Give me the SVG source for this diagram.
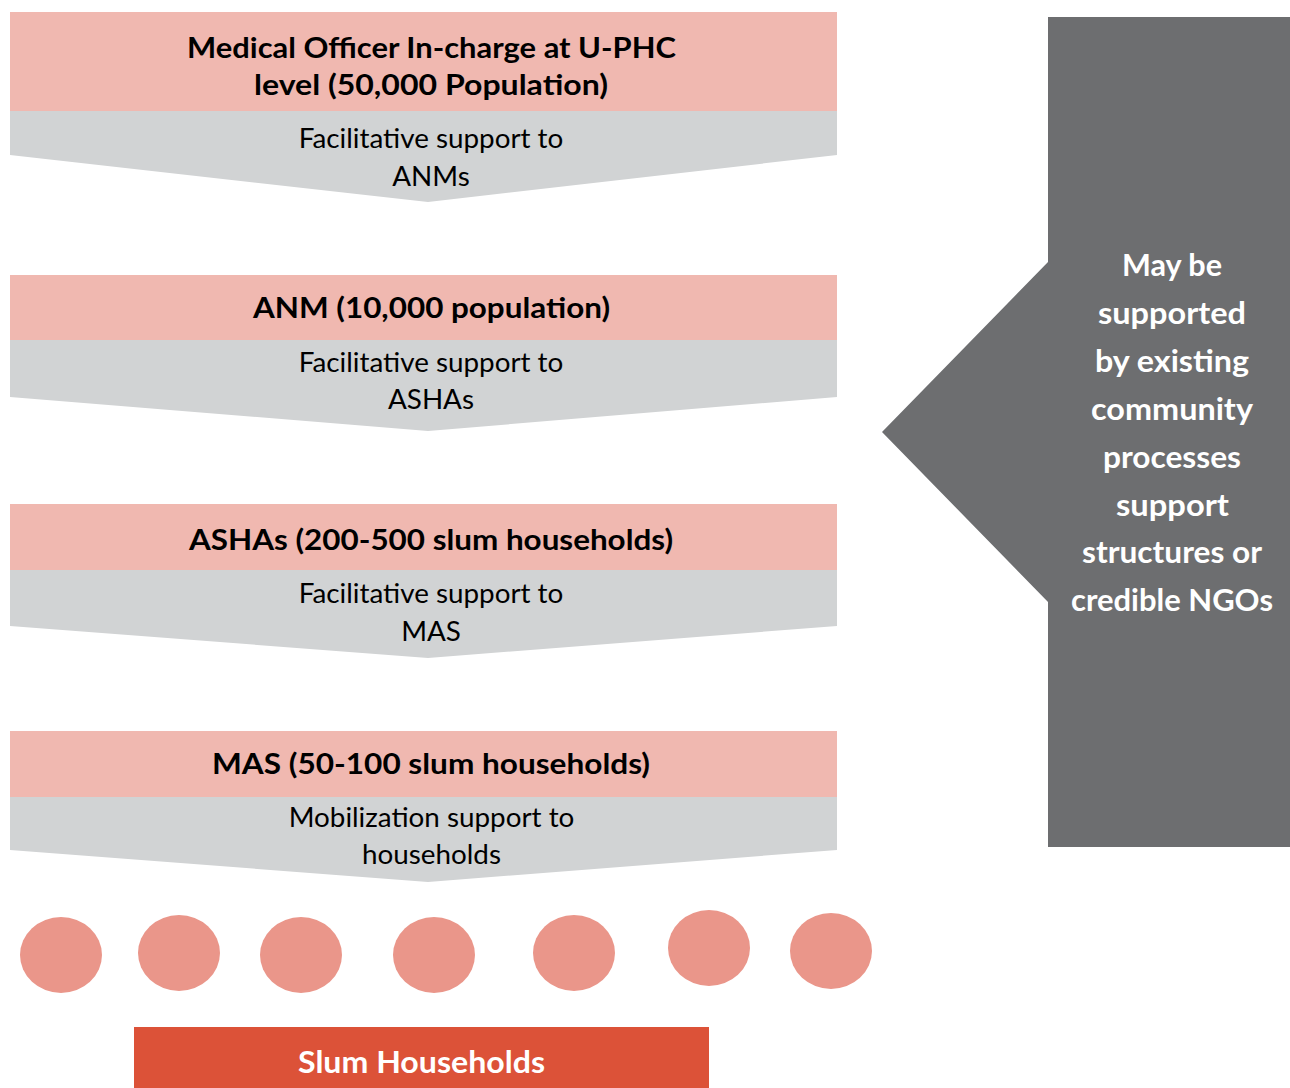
<svg xmlns="http://www.w3.org/2000/svg" width="1290" height="1088" viewBox="0 0 1290 1088">
<style>
.head{fill:#F0B8B0}
.sub{fill:#D1D3D4}
.t{font-family:Lato,"Open Sans",sans-serif;font-size:29px;font-weight:700;fill:#000;text-anchor:middle}
.s{font-family:Lato,"Open Sans",sans-serif;font-size:27.8px;font-weight:400;fill:#000;text-anchor:middle}
.w{font-family:Lato,"Open Sans",sans-serif;font-size:29.5px;font-weight:700;fill:#fff;text-anchor:middle}
.dot{fill:#EA968A}
</style>
<rect width="1290" height="1088" fill="#fff"/>
<g id="node-mo">
<polygon class="sub" points="10,111 837,111 837,155 428,202 10,155"/>
<rect class="head" x="10" y="12" width="827" height="99"/>
<text class="t" x="431.5" y="58" textLength="489" lengthAdjust="spacingAndGlyphs">Medical Officer In-charge at U-PHC</text>
<text class="t" x="431" y="95" textLength="354" lengthAdjust="spacingAndGlyphs">level (50,000 Population)</text>
<text class="s" x="431" y="148">Facilitative support to</text>
<text class="s" x="431" y="186">ANMs</text>
</g>
<g id="node-anm">
<polygon class="sub" points="10,340 837,340 837,397 428,431 10,397"/>
<rect class="head" x="10" y="275" width="827" height="65"/>
<text class="t" x="431.5" y="318" textLength="357" lengthAdjust="spacingAndGlyphs">ANM (10,000 population)</text>
<text class="s" x="431" y="372">Facilitative support to</text>
<text class="s" x="431" y="409">ASHAs</text>
</g>
<g id="node-asha">
<polygon class="sub" points="10,570 837,570 837,626 428,658 10,626"/>
<rect class="head" x="10" y="504" width="827" height="66"/>
<text class="t" x="431" y="550" textLength="484" lengthAdjust="spacingAndGlyphs">ASHAs (200-500 slum households)</text>
<text class="s" x="431" y="603">Facilitative support to</text>
<text class="s" x="431" y="641">MAS</text>
</g>
<g id="node-mas">
<polygon class="sub" points="10,797 837,797 837,850 428,882 10,850"/>
<rect class="head" x="10" y="731" width="827" height="66"/>
<text class="t" x="431" y="774" textLength="438" lengthAdjust="spacingAndGlyphs">MAS (50-100 slum households)</text>
<text class="s" x="431.5" y="827">Mobilization support to</text>
<text class="s" x="431.5" y="864">households</text>
</g>
<g id="node-support">
<polygon fill="#6D6E70" points="1048,17 1290,17 1290,847 1048,847 1048,602 882,432 1048,262"/>
<text class="w" x="1172" y="276" textLength="100" lengthAdjust="spacingAndGlyphs">May be</text>
<text class="w" x="1172" y="324" textLength="148" lengthAdjust="spacingAndGlyphs">supported</text>
<text class="w" x="1172" y="372" textLength="154" lengthAdjust="spacingAndGlyphs">by existing</text>
<text class="w" x="1172" y="420" textLength="162" lengthAdjust="spacingAndGlyphs">community</text>
<text class="w" x="1172" y="468" textLength="138" lengthAdjust="spacingAndGlyphs">processes</text>
<text class="w" x="1172.5" y="516" textLength="113" lengthAdjust="spacingAndGlyphs">support</text>
<text class="w" x="1172" y="563" textLength="180" lengthAdjust="spacingAndGlyphs">structures or</text>
<text class="w" x="1172" y="611" textLength="202" lengthAdjust="spacingAndGlyphs">credible NGOs</text>
</g>
<g id="node-households">
<ellipse class="dot" cx="61" cy="955" rx="41" ry="38"/>
<ellipse class="dot" cx="179" cy="953" rx="41" ry="38"/>
<ellipse class="dot" cx="301" cy="955" rx="41" ry="38"/>
<ellipse class="dot" cx="434" cy="955" rx="41" ry="38"/>
<ellipse class="dot" cx="574" cy="953" rx="41" ry="38"/>
<ellipse class="dot" cx="709" cy="948" rx="41" ry="38"/>
<ellipse class="dot" cx="831" cy="951" rx="41" ry="38"/>
</g>
<g id="node-slum">
<rect fill="#DC5238" x="134" y="1027" width="575" height="61"/>
<text class="w" x="421.5" y="1073" textLength="247" lengthAdjust="spacingAndGlyphs">Slum Households</text>
</g>
<g id="connectors"></g>
</svg>
